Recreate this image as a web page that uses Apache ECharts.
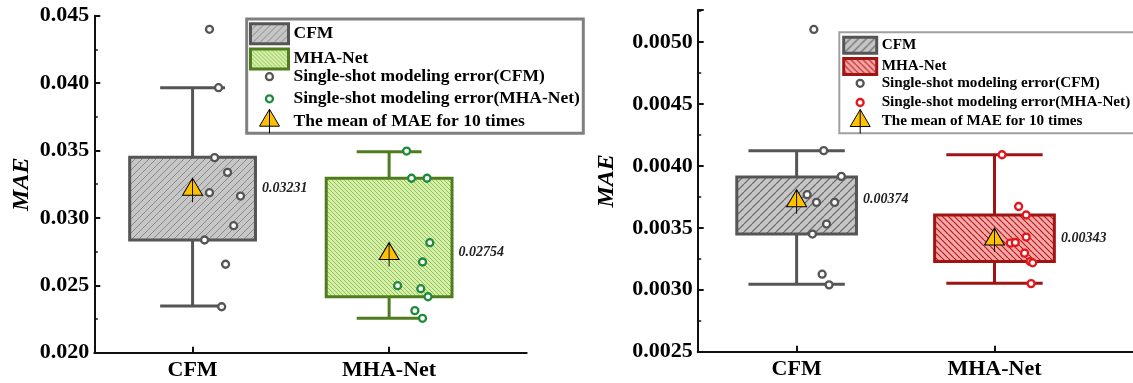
<!DOCTYPE html>
<html><head><meta charset="utf-8">
<script src="https://cdn.jsdelivr.net/npm/echarts@6/dist/echarts.min.js"></script>
<style>html,body{margin:0;padding:0;background:#fff}#c{width:1133px;height:383px}</style>
</head><body><div id="c"></div>
<script>
// ---------- data ----------
const categories = ['CFM', 'MHA-Net'];
const legendLabels = ['CFM', 'MHA-Net', 'Single-shot modeling error(CFM)', 'Single-shot modeling error(MHA-Net)', 'The mean of MAE for 10 times'];

// left panel
const leftYMin = 0.020, leftYMax = 0.045, leftYInterval = 0.005;
const leftCfmErrors = [0.04399, 0.03966, 0.03447, 0.03338, 0.03187, 0.03162, 0.02942, 0.02836, 0.02656, 0.02341];
const leftCfmJitter = [0.086, 0.132, 0.112, 0.178, 0.086, 0.244, 0.209, 0.061, 0.168, 0.148];
const leftMhaErrors = [0.03496, 0.03294, 0.03294, 0.02816, 0.02673, 0.02497, 0.02475, 0.02415, 0.02312, 0.02255];
const leftMhaJitter = [0.089, 0.114, 0.193, 0.207, 0.170, 0.043, 0.161, 0.198, 0.131, 0.170];
const leftCfmBox = [0.02346, 0.02836, 0.03450, 0.03966];   // low whisker, Q1, Q3, high whisker
const leftMhaBox = [0.02255, 0.02415, 0.03294, 0.03491];
const leftMeans = [0.03231, 0.02754];

// right panel
const rightYMin = 0.0025, rightYMax = 0.00526, rightYInterval = 0.0005;
const rightCfmErrors = [0.005103, 0.004124, 0.003916, 0.003768, 0.003706, 0.003706, 0.003531, 0.003450, 0.003126, 0.003040];
const rightCfmJitter = [0.087, 0.137, 0.226, 0.053, 0.100, 0.192, 0.151, 0.080, 0.129, 0.164];
const rightMhaErrors = [0.004091, 0.003673, 0.003604, 0.003426, 0.003377, 0.003382, 0.003296, 0.003228, 0.003218, 0.003050];
const rightMhaJitter = [0.038, 0.122, 0.160, 0.160, 0.080, 0.105, 0.152, 0.180, 0.193, 0.185];
const rightCfmBox = [0.003045, 0.003450, 0.003911, 0.004124];
const rightMhaBox = [0.003053, 0.003228, 0.003604, 0.004091];
const rightMeans = [0.00374, 0.00343];

// ---------- styling helpers ----------
const FONT = 'Liberation Serif';
function hatch(bg, line, size, lw, dir) {
  const c = document.createElement('canvas'); c.width = size; c.height = size;
  const g = c.getContext('2d'); g.fillStyle = bg; g.fillRect(0, 0, size, size);
  g.strokeStyle = line; g.lineWidth = lw; g.beginPath();
  for (let k = -1; k <= 1; k++) {
    if (dir === '/') { g.moveTo(k * size, size); g.lineTo(k * size + size, 0); }
    else { g.moveTo(k * size, 0); g.lineTo(k * size + size, size); }
  }
  g.stroke();
  return { image: c, repeat: 'repeat' };
}
const meanPath = 'path://M10 0L20 17L0 17ZM10 0L10 24';

function boxRender(st, boxW, capW) {
  return function (params, api) {
    const x = api.value(0);
    const lo = api.coord([x, api.value(1)]), q1 = api.coord([x, api.value(2)]),
          q3 = api.coord([x, api.value(3)]), hi = api.coord([x, api.value(4)]);
    const bw = api.size([boxW, 0])[0], cw = api.size([capW, 0])[0];
    const cx = q1[0];
    const ls = { stroke: st.stroke, lineWidth: st.lw };
    return { type: 'group', children: [
      { type: 'line', shape: { x1: cx, y1: q3[1], x2: cx, y2: hi[1] }, style: ls },
      { type: 'line', shape: { x1: cx, y1: q1[1], x2: cx, y2: lo[1] }, style: ls },
      { type: 'line', shape: { x1: cx - cw / 2, y1: hi[1], x2: cx + cw / 2, y2: hi[1] }, style: ls },
      { type: 'line', shape: { x1: cx - cw / 2, y1: lo[1], x2: cx + cw / 2, y2: lo[1] }, style: ls },
      { type: 'rect', shape: { x: cx - bw / 2, y: q3[1], width: bw, height: q1[1] - q3[1] },
        style: { fill: st.fill, stroke: st.stroke, lineWidth: st.lw } }
    ] };
  };
}

function panel(i, p) {
  const axisColor = '#111';
  const catPos = categories.map((c, k) => k + 1);
  const grid = { left: p.grid[0], top: p.grid[1], width: p.grid[2], height: p.grid[3] };
  const xAxis = {
    type: 'value', gridIndex: i, min: 0.5, max: 2.7,
    axisLine: { show: true, onZero: false, lineStyle: { color: axisColor, width: 2 } },
    splitLine: { show: false },
    axisTick: { show: true, inside: true, length: 6, customValues: catPos, lineStyle: { color: axisColor, width: 2 } },
    axisLabel: { customValues: catPos, formatter: v => categories[Math.round(v) - 1], margin: 7,
      fontFamily: FONT, fontWeight: 'bold', fontSize: 22, color: '#000' }
  };
  const yAxis = {
    type: 'value', gridIndex: i, min: p.ymin, max: p.ymax, interval: p.yint,
    name: 'MAE', nameLocation: 'middle', nameRotate: 90, nameGap: p.nameGap,
    nameTextStyle: { fontFamily: FONT, fontStyle: 'italic', fontWeight: 'bold', fontSize: 24, color: '#000' },
    axisLine: { show: true, onZero: false, lineStyle: { color: axisColor, width: 2 } },
    splitLine: { show: false },
    axisTick: { show: true, inside: true, length: 6, lineStyle: { color: axisColor, width: 2 } },
    minorTick: { show: true, splitNumber: 2, length: 3.5, lineStyle: { color: axisColor, width: 1.5 } },
    axisLabel: { formatter: v => v.toFixed(p.dec), margin: 5, showMaxLabel: p.showMax,
      fontFamily: FONT, fontWeight: 'bold', fontSize: 22, color: '#000' }
  };
  const series = [
    { type: 'custom', name: legendLabels[0], xAxisIndex: i, yAxisIndex: i, z: 2,
      renderItem: boxRender(p.cfmStyle, p.boxW, p.capW), itemStyle: { color: p.cfmStyle.fill },
      encode: { x: 0, y: [1, 2, 3, 4] }, data: [[catPos[0]].concat(p.cfmBox)] },
    { type: 'custom', name: legendLabels[1], xAxisIndex: i, yAxisIndex: i, z: 2,
      renderItem: boxRender(p.mhaStyle, p.boxW, p.capW), itemStyle: { color: p.mhaStyle.fill },
      encode: { x: 0, y: [1, 2, 3, 4] }, data: [[catPos[1]].concat(p.mhaBox)] },
    { type: 'scatter', name: legendLabels[2], xAxisIndex: i, yAxisIndex: i, z: 3,
      symbol: 'circle', symbolSize: 7,
      itemStyle: { color: '#fff', borderColor: p.cfmDot, borderWidth: 2.3, opacity: 1 },
      data: p.cfmErr.map((v, k) => [catPos[0] + p.cfmJit[k], v]) },
    { type: 'scatter', name: legendLabels[3], xAxisIndex: i, yAxisIndex: i, z: 3,
      symbol: 'circle', symbolSize: 7,
      itemStyle: { color: '#fff', borderColor: p.mhaDot, borderWidth: 2.3, opacity: 1 },
      data: p.mhaErr.map((v, k) => [catPos[1] + p.mhaJit[k], v]) },
    { type: 'scatter', name: legendLabels[4], xAxisIndex: i, yAxisIndex: i, z: 4,
      symbol: meanPath, symbolSize: [20, 24], symbolOffset: [0, 3.5], symbolKeepAspect: false,
      itemStyle: { color: '#FFC000', borderColor: '#000', borderWidth: 1, opacity: 1 },
      label: { show: true, position: 'right', distance: p.labelDist, offset: [0, -2],
        formatter: q => q.value[1].toFixed(5),
        fontFamily: FONT, fontStyle: 'italic', fontWeight: 'bold', fontSize: 14, color: '#222' },
      data: p.means.map((m, k) => [catPos[k], m]) }
  ];
  const L = p.leg;
  const txt = { fontFamily: FONT, fontWeight: 'bold', fontSize: L.fs, lineHeight: L.lh, color: '#000' };
  const common = { orient: 'vertical', padding: 0, itemWidth: L.iw, selectedMode: false, textStyle: txt };
  const legends = [
    Object.assign({}, common, { left: L.left[0], top: L.top[0], itemHeight: L.boxH, itemGap: L.gap,
      data: [
        { name: legendLabels[0], icon: 'rect', itemStyle: { color: p.cfmStyle.fill, borderColor: p.cfmStyle.stroke, borderWidth: 3 } },
        { name: legendLabels[1], icon: 'rect', itemStyle: { color: p.mhaStyle.fill, borderColor: p.mhaStyle.stroke, borderWidth: 3 } }
      ] }),
    Object.assign({}, common, { left: L.left[1], top: L.top[1], itemHeight: 7, itemGap: L.gap,
      data: [
        { name: legendLabels[2], icon: 'circle', itemStyle: { color: '#fff', borderColor: p.cfmDot, borderWidth: 2.3 } },
        { name: legendLabels[3], icon: 'circle', itemStyle: { color: '#fff', borderColor: p.mhaDot, borderWidth: 2.3 } }
      ] }),
    Object.assign({}, common, { left: L.left[2], top: L.top[2], itemHeight: 24,
      data: [{ name: legendLabels[4], icon: meanPath, itemStyle: { color: '#FFC000', borderColor: '#000', borderWidth: 1 } }] })
  ];
  const frame = { type: 'rect', z: 3, shape: { x: L.frame[0], y: L.frame[1], width: L.frame[2], height: L.frame[3] },
    style: { fill: '#fff', stroke: L.frameColor, lineWidth: L.frameW } };
  return { grid, xAxis, yAxis, series, legends, frame };
}

const left = panel(0, {
  grid: [94.3, 15.7, 432.4, 337], ymin: leftYMin, ymax: leftYMax, yint: leftYInterval, dec: 3, showMax: true, nameGap: 61,
  boxW: 0.64, capW: 0.33, labelDist: 59,
  cfmStyle: { stroke: '#555', lw: 3, fill: hatch('#c6c6c6', '#8a8a8a', 7, 1, '/') },
  mhaStyle: { stroke: '#4f7c1e', lw: 3, fill: hatch('#d6f0aa', '#8cbd55', 4, 0.9, '\\') },
  cfmDot: '#555', mhaDot: '#1f8a3c',
  cfmBox: leftCfmBox, mhaBox: leftMhaBox, cfmErr: leftCfmErrors, cfmJit: leftCfmJitter,
  mhaErr: leftMhaErrors, mhaJit: leftMhaJitter, means: leftMeans,
  leg: { left: [249, 264.8, 259], iw: 38, fs: 17.5, lh: 20, boxH: 20, gap: 2.1, top: [22.3, 66.7, 108.7],
         frame: [246.7, 19, 336.6, 114.3], frameColor: '#808080', frameW: 3 }
});
const right = panel(1, {
  grid: [697.7, 10, 437.8, 341.7], ymin: rightYMin, ymax: rightYMax, yint: rightYInterval, dec: 4, showMax: false, nameGap: 79,
  boxW: 0.605, capW: 0.487, labelDist: 56,
  cfmStyle: { stroke: '#555', lw: 3, fill: hatch('#c6c6c6', '#707070', 8, 1.3, '/') },
  mhaStyle: { stroke: '#a01414', lw: 3, fill: hatch('#f5a8a8', '#b51c1c', 6, 1.2, '\\') },
  cfmDot: '#555', mhaDot: '#e3161b',
  cfmBox: rightCfmBox, mhaBox: rightMhaBox, cfmErr: rightCfmErrors, cfmJit: rightCfmJitter,
  mhaErr: rightMhaErrors, mhaJit: rightMhaJitter, means: rightMeans,
  leg: { left: [842.2, 855.5, 849.7], iw: 33, fs: 15.2, lh: 17, boxH: 16, gap: 2.2, top: [35.8, 74.8, 109],
         frame: [839.3, 32.3, 300, 101], frameColor: '#a0a0a0', frameW: 2 }
});

const chart = echarts.init(document.getElementById('c'), null, { renderer: 'canvas' });
chart.setOption({
  backgroundColor: '#fff',
  animation: false,
  grid: [left.grid, right.grid],
  xAxis: [left.xAxis, right.xAxis],
  yAxis: [left.yAxis, right.yAxis],
  legend: left.legends.concat(right.legends),
  graphic: [left.frame, right.frame],
  series: left.series.concat(right.series)
});
</script></body></html>
